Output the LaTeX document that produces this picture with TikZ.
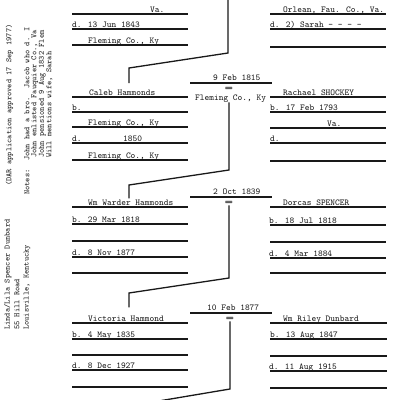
\documentclass[tikz,border=0pt]{standalone}
\usepackage{fontspec}
\usepackage{tikz}
\usetikzlibrary{positioning}
\begin{document}
\begin{tikzpicture}[x=1pt,y=-1pt,
  rule/.style={line width=1.5pt,black!90},
  link/.style={line width=1.3pt,black!90},
  typed/.style={font=\ttfamily\fontsize{9}{9}\selectfont,text=black!90,inner sep=0pt,anchor=base west},
  side/.style={typed,rotate=90,font=\ttfamily\fontsize{8}{8}\selectfont\addfontfeature{LetterSpace=6}},
  wed/.style={font=\ttfamily\fontsize{9}{9}\selectfont,text=black,inner sep=0pt}]
\useasboundingbox (0,0) rectangle (400,400);
\clip (0,0) rectangle (400,400);

\node[side] (dar) at (11.5,186) {(DAR application approved 17 Sep 1977)};
\node[side] (notes) at (29.5,195) {Notes:\ \ John had a bro.\ \ Jacob who d. I};
\node[side] (enlist) at (36.5,158) {John enlisted Fauquier Co., Va};
\node[side] (pension) at (44,158) {John pensioned 9 Aug 1832 Flem};
\node[side] (will) at (51.5,158) {Will mentions wife, Sarah};
\node[side] (linda) at (9.5,330) {Linda/Lila Spencer Dunbard};
\node[side] (road) at (19.5,330) {55 Hill Road};
\node[side] (city) at (28.5,330) {Louisville, Kentucky};

\node[typed] (tva) at (150,12) {Va.};
\node[typed] (td) at (72,27) {d. 13 Jun 1843};
\node[typed] (tpl) at (88,43) {Fleming Co., Ky};
\draw[rule] (72,14) -- (188,14);
\draw[rule] (72,29) -- (188,29);
\draw[rule] (72,45) -- (188,45);

\node[typed] (tor) at (283,12) {Orlean, Fau. Co., Va.};
\node[typed] (tsa) at (270,27) {d. 2) Sarah - - - -};
\draw[rule] (270,14) -- (386,14);
\draw[rule] (270,29) -- (386,29);
\draw[rule] (270,47) -- (386,47);

\node[typed] (m1) at (213,80) {9 Feb 1815};
\draw[rule] (190,83) -- (272,83);
\node[wed] (eq1) at (229,89) {\scalebox{1.8}[1.1]{=}};
\node[typed] (pl1) at (195,100) {Fleming Co., Ky};

\node[typed] (caleb) at (89,95) {Caleb Hammonds};
\node[typed] (cb) at (72,110) {b.};
\node[typed] (cbp) at (88,125) {Fleming Co., Ky};
\node[typed] (cd) at (72,141) {d.};
\node[typed] (cdy) at (123,141) {1850};
\node[typed] (cdp) at (88,158) {Fleming Co., Ky};
\draw[rule] (72,97) -- (188,97);
\draw[rule] (72,112) -- (188,112);
\draw[rule] (72,127) -- (188,127);
\draw[rule] (72,143) -- (188,143);
\draw[rule] (72,160) -- (188,160);

\node[typed] (rach) at (283,95) {Rachael SHOCKEY};
\node[typed] (rb) at (270,110) {b. 17 Feb 1793};
\node[typed] (rbp) at (327,126) {Va.};
\node[typed] (rd) at (270,141) {d.};
\draw[rule] (270,97) -- (386,97);
\draw[rule] (270,112) -- (386,112);
\draw[rule] (270,128) -- (386,128);
\draw[rule] (270,143) -- (386,143);
\draw[rule] (270,161) -- (386,161);

\node[typed] (m2) at (213,194) {2 Oct 1839};
\draw[rule] (190,197) -- (272,197);
\node[wed] (eq2) at (229,203) {\scalebox{1.8}[1.1]{=}};

\node[typed] (wmw) at (88,205) {Wm Warder Hammonds};
\node[typed] (wb) at (72,222) {b. 29 Mar 1818};
\node[typed] (wd) at (72,255) {d. 8 Nov 1877};
\draw[rule] (72,207) -- (188,207);
\draw[rule] (72,224) -- (188,224);
\draw[rule] (72,241) -- (188,241);
\draw[rule] (72,257) -- (188,257);
\draw[rule] (72,273) -- (188,273);

\node[typed] (dor) at (283,205) {Dorcas SPENCER};
\node[typed] (db) at (269,223) {b. 18 Jul 1818};
\node[typed] (dd) at (269,256) {d. 4 Mar 1884};
\draw[rule] (270,207) -- (386,207);
\draw[rule] (270,225) -- (386,225);
\draw[rule] (270,242) -- (386,242);
\draw[rule] (270,258) -- (386,258);
\draw[rule] (270,273) -- (386,273);

\node[typed] (m3) at (207,310) {10 Feb 1877};
\draw[rule] (190,313) -- (272,313);
\node[wed] (eq3) at (230,319) {\scalebox{1.8}[1.1]{=}};

\node[typed] (vic) at (88,321) {Victoria Hammond};
\node[typed] (vb) at (72,337) {b. 4 May 1835};
\node[typed] (vd) at (72,368) {d. 8 Dec 1927};
\draw[rule] (72,323) -- (188,323);
\draw[rule] (72,339) -- (188,339);
\draw[rule] (72,355) -- (188,355);
\draw[rule] (72,370) -- (188,370);
\draw[rule] (72,387) -- (188,387);

\node[typed] (riley) at (283,321) {Wm Riley Dunbard};
\node[typed] (wrb) at (270,337) {b. 13 Aug 1847};
\node[typed] (wrd) at (269,369) {d. 11 Aug 1915};
\draw[rule] (270,323) -- (387,323);
\draw[rule] (270,339) -- (387,339);
\draw[rule] (270,356) -- (387,356);
\draw[rule] (270,371) -- (387,371);
\draw[rule] (270,388) -- (387,388);

\coordinate (above) at (228,-6);
\coordinate (below) at (129,406);
\draw[link,shorten >=6pt] (above) -- (228,53) -- (129,68) -- (caleb.north -| 129,0);
\draw[link,shorten >=1pt] (pl1.south -| eq1) -- (eq1 |- 0,170) -- (129,185) -- (wmw.north -| 129,0);
\draw[link,shorten >=8pt] (eq2.south) -- (eq2 |- 0,278) -- (129,293) -- (vic.north -| 129,0);
\draw[link] (eq3.south) -- (eq3 |- 0,389) -- (below);
\end{tikzpicture}
\end{document}
